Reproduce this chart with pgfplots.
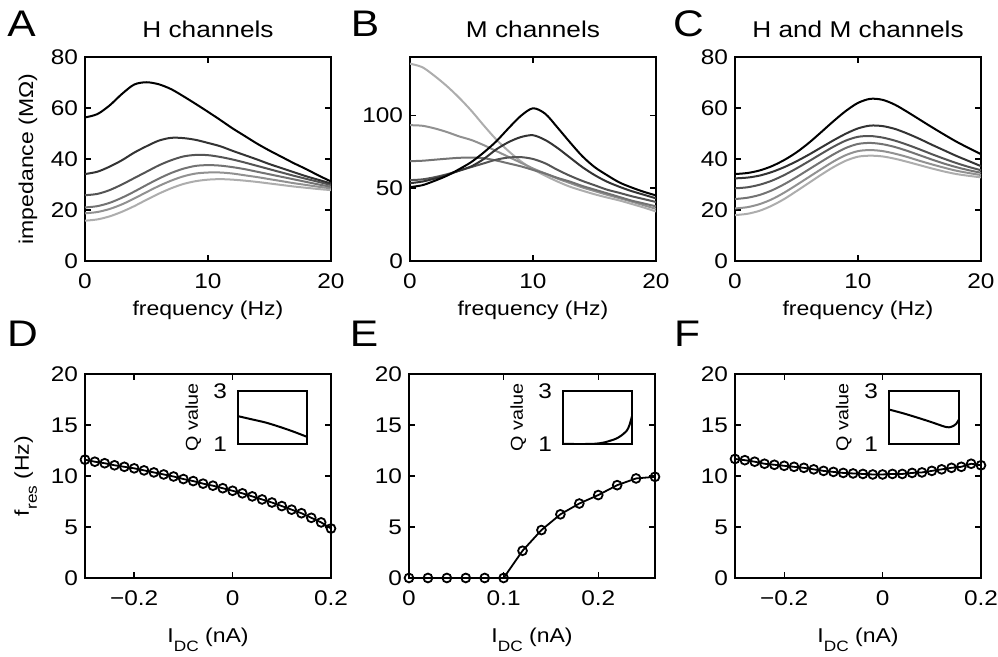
\documentclass[border=0pt]{standalone}
\usepackage{fontspec}
\setmainfont{Liberation Sans}[FakeStretch=1.15]
\usepackage{pgfplots}
\pgfplotsset{compat=1.18}
\definecolor{c1}{rgb}{0,0,0}
\definecolor{c2}{rgb}{0.2,0.2,0.2}
\definecolor{c3}{rgb}{0.33,0.33,0.33}
\definecolor{c4}{rgb}{0.45,0.45,0.45}
\definecolor{c5}{rgb}{0.57,0.57,0.57}
\definecolor{c6}{rgb}{0.68,0.68,0.68}
\newcommand{\tkfont}{\fontsize{10.6}{12}\selectfont}
\newcommand{\lbfont}{\fontsize{10}{12}\selectfont}
\pgfplotsset{
  mainax/.style={scale only axis, width=123pt, height=102pt, anchor=south west,
    axis line style={line width=0.7pt}, every tick/.style={black, line width=0.7pt},
    major tick length=3pt, tick align=inside,
    /pgf/number format/assume math mode=true,
    tick label style={font=\tkfont}, label style={font=\lbfont},
    every axis title/.style={font=\fontsize{11.4}{13}\selectfont, at={(0.5,1)}, anchor=base, yshift=9.8pt},
    xticklabel style={anchor=base, yshift=-14pt},
    ylabel style={at={(axis description cs:-0.211,0.5)}, anchor=base},
  },
  toprow/.style={mainax, xmin=0, xmax=20, xtick={0,10,20},
    xlabel={frequency (Hz)},
    xlabel style={at={(axis description cs:0.5,0)}, anchor=base, yshift=-27.5pt}},
  botrow/.style={mainax, ymin=0, ymax=20, ytick={0,5,10,15,20},
    xlabel={I\raisebox{-4.5pt}{\fontsize{7.5}{8}\selectfont DC} (nA)},
    xlabel style={at={(axis description cs:0.5,0)}, anchor=base, yshift=-32.2pt}},
  inset/.style={scale only axis, height=26.5pt, anchor=south west,
    axis line style={line width=0.7pt}, ymin=1, ymax=3, xtick=\empty, ytick={1,3},
    major tick length=0pt, /pgf/number format/assume math mode=true,
    yticklabel style={font=\tkfont, xshift=-2pt},
    axis background/.style={fill=white},
    ylabel={Q value},
    ylabel style={font=\fontsize{8.6}{10}\selectfont, at={(axis description cs:-0.58,0.5)}, anchor=base}},
  ln/.style={line width=1pt, smooth},
  mk/.style={black, line width=0.9pt, mark=o, mark size=2.2pt},
}
\begin{document}
\begin{tikzpicture}
\useasboundingbox (0pt,0pt) rectangle (499pt,328.5pt);
% ---------------- A
\begin{axis}[toprow, at={(42.5pt,198pt)}, ymin=0, ymax=80, ytick={0,20,40,60,80},
  title={H channels}, ylabel={impedance (MΩ)}]
\addplot[ln,c6] coordinates {(0,15.8)(1,16.3)(2,17.5)(3,19.3)(4,21.5)(5,24)(6,26.4)(7,28.5)(8,30.2)(9,31.3)(10,31.9)(11,32.1)(12,31.9)(13,31.5)(14,31)(15,30.4)(16,29.8)(17,29.2)(18,28.7)(19,28.2)(20,27.8)};
\addplot[ln,c5] coordinates {(0,18.7)(1,19.2)(2,20.4)(3,22.2)(4,24.5)(5,27)(6,29.4)(7,31.5)(8,33.2)(9,34.3)(10,34.7)(11,34.7)(12,34.3)(13,33.6)(14,32.9)(15,32.1)(16,31.3)(17,30.5)(18,29.8)(19,29.1)(20,28.5)};
\addplot[ln,c4] coordinates {(0,21)(1,21.5)(2,22.8)(3,24.8)(4,27.2)(5,29.8)(6,32.3)(7,34.5)(8,36.2)(9,37.3)(10,37.6)(11,37.4)(12,36.8)(13,36)(14,35)(15,34)(16,33)(17,32)(18,31)(19,30)(20,29.1)};
\addplot[ln,c3] coordinates {(0,25.8)(1,26.3)(2,27.8)(3,30)(4,32.5)(5,35)(6,37.5)(7,39.5)(8,41)(9,41.6)(10,41.5)(11,40.8)(12,39.8)(13,38.6)(14,37.3)(15,36)(16,34.7)(17,33.4)(18,32.2)(19,31)(20,29.8)};
\addplot[ln,c2] coordinates {(0,34.1)(1,35)(2,37)(3,39.5)(4,42.5)(5,45)(6,47.2)(7,48.3)(8,48.2)(9,47.5)(10,46.3)(11,45)(12,43.2)(13,41.5)(14,39.8)(15,38)(16,36.4)(17,34.8)(18,33.2)(19,31.8)(20,30.4)};
\addplot[ln,c1] coordinates {(0,56.3)(1,57.6)(2,61)(3,65.5)(4,69.2)(5,70.1)(6,69.3)(7,67.4)(8,64.6)(9,61.6)(10,58.5)(11,55.3)(12,52)(13,49)(14,46)(15,43.3)(16,40.8)(17,38.3)(18,36)(19,33.5)(20,31.2)};
\end{axis}
% ---------------- B
\begin{axis}[toprow, at={(205pt,198pt)}, ymin=0, ymax=140, ytick={0,50,100},
  title={M channels}]
\addplot[ln,c6] coordinates {(0,135.4)(1,133)(2,127)(3,120)(4,112)(5,103)(6,93)(7,83.5)(8,75.5)(9,68.5)(10,63)(11,58.5)(12,54.5)(13,51)(14,48.3)(15,45.8)(16,43.6)(17,41.6)(18,39.2)(19,36.7)(20,34)};
\addplot[ln,c5] coordinates {(0,93.2)(1,92.8)(2,91)(3,88.5)(4,85.5)(5,83)(6,79.5)(7,75.5)(8,71.5)(9,67.5)(10,63.5)(11,60)(12,56.5)(13,53.5)(14,50.5)(15,48)(16,45.5)(17,43.2)(18,40.8)(19,38.3)(20,35.8)};
\addplot[ln,c4] coordinates {(0,68.5)(1,68.8)(2,69.5)(3,70.2)(4,70.8)(5,71)(6,70.5)(7,69)(8,67)(9,65)(10,62.5)(11,60)(12,57)(13,54.5)(14,51.5)(15,49)(16,46.5)(17,44)(18,41.5)(19,39.5)(20,37.5)};
\addplot[ln,c3] coordinates {(0,55.5)(1,56)(2,57.5)(3,59.5)(4,62)(5,64.5)(6,67)(7,69.5)(8,71)(9,71.3)(10,70)(11,67)(12,62.5)(13,58.5)(14,55)(15,52)(16,49)(17,46.8)(18,44.5)(19,42.5)(20,40.5)};
\addplot[ln,c2] coordinates {(0,53.4)(1,54.5)(2,56.5)(3,59)(4,62)(5,65)(6,70)(7,76.5)(8,81.5)(9,85)(10,86.3)(11,83)(12,77.5)(13,71)(14,64.5)(15,59)(16,54.5)(17,51)(18,48)(19,45.5)(20,43)};
\addplot[ln,c1] coordinates {(0,50.7)(1,52)(2,55)(3,58.5)(4,63)(5,68)(6,74.5)(7,82)(8,91)(9,99.5)(10,104.8)(11,101)(12,91.5)(13,81.5)(14,72)(15,64.5)(16,59)(17,54)(18,50.5)(19,47.5)(20,45)};
\end{axis}
% ---------------- C
\begin{axis}[toprow, at={(367.5pt,198pt)}, ymin=0, ymax=80, ytick={0,20,40,60,80},
  title={H and M channels}]
\addplot[ln,c6] coordinates {(0,18)(1,18.5)(2,19.7)(3,21.7)(4,24.3)(5,27.4)(6,30.6)(7,33.8)(8,36.8)(9,39.3)(10,40.9)(11,41.3)(12,41)(13,40.1)(14,38.9)(15,37.6)(16,36.3)(17,35.1)(18,34.1)(19,33.4)(20,32.8)};
\addplot[ln,c5] coordinates {(0,20.6)(1,21.1)(2,22.3)(3,24.2)(4,26.8)(5,29.8)(6,32.9)(7,36)(8,39)(9,41.5)(10,43.1)(11,43.5)(12,43.1)(13,42.1)(14,40.8)(15,39.3)(16,37.9)(17,36.6)(18,35.4)(19,34.5)(20,33.7)};
\addplot[ln,c4] coordinates {(0,24.3)(1,24.8)(2,25.9)(3,27.7)(4,30.1)(5,32.9)(6,35.9)(7,38.9)(8,41.8)(9,44.3)(10,45.9)(11,46.3)(12,45.8)(13,44.7)(14,43.2)(15,41.5)(16,39.8)(17,38.2)(18,36.8)(19,35.6)(20,34.6)};
\addplot[ln,c3] coordinates {(0,28.5)(1,28.9)(2,29.9)(3,31.5)(4,33.7)(5,36.3)(6,39.1)(7,42)(8,44.8)(9,47.2)(10,48.7)(11,49)(12,48.4)(13,47.2)(14,45.6)(15,43.8)(16,41.9)(17,40.1)(18,38.4)(19,36.9)(20,35.6)};
\addplot[ln,c2] coordinates {(0,32.4)(1,32.7)(2,33.5)(3,34.9)(4,36.8)(5,39.1)(6,41.7)(7,44.5)(8,47.3)(9,49.9)(10,52)(11,53.1)(12,52.9)(13,51.8)(14,50)(15,47.9)(16,45.6)(17,43.4)(18,41.2)(19,39.2)(20,37.2)};
\addplot[ln,c1] coordinates {(0,34.1)(1,34.5)(2,35.5)(3,37.2)(4,39.6)(5,42.6)(6,46.3)(7,50.5)(8,54.8)(9,58.8)(10,62)(11,63.6)(12,63.2)(13,61.3)(14,58.5)(15,55.5)(16,52.5)(17,49.6)(18,46.8)(19,44.3)(20,41.9)};
\end{axis}
% ---------------- D
\begin{axis}[botrow, at={(42.5pt,39.5pt)}, xmin=-0.3, xmax=0.2, xtick={-0.2,0,0.2},
  xticklabels={−0.2,0,0.2},
  ylabel={f\raisebox{-4pt}{\fontsize{7.5}{8}\selectfont res} (Hz)},
  ylabel style={at={(axis description cs:-0.228,0.5)}}]
\addplot[mk] coordinates {(-0.30,11.6)(-0.28,11.4)(-0.26,11.25)(-0.24,11.05)(-0.22,10.9)(-0.20,10.75)(-0.18,10.55)(-0.16,10.35)(-0.14,10.15)(-0.12,9.95)(-0.10,9.7)(-0.08,9.5)(-0.06,9.25)(-0.04,9.05)(-0.02,8.8)(0.00,8.55)(0.02,8.3)(0.04,8.0)(0.06,7.7)(0.08,7.4)(0.10,7.05)(0.12,6.7)(0.14,6.35)(0.16,5.9)(0.18,5.45)(0.20,4.85)};
\end{axis}
\begin{axis}[inset, width=34.5pt, at={(119pt,106.5pt)}, xmin=-0.3, xmax=0.2]
\addplot[ln,black] coordinates {(-0.3,2.05)(-0.2,1.93)(-0.1,1.81)(0,1.65)(0.1,1.47)(0.2,1.27)};
\end{axis}
% ---------------- E
\begin{axis}[botrow, at={(204.5pt,39.5pt)}, xmin=0, xmax=0.26, xtick={0,0.1,0.2},
  xticklabels={0,0.1,0.2}]
\addplot[mk] coordinates {(0,0)(0.02,0)(0.04,0)(0.06,0)(0.08,0)(0.10,0)(0.12,2.67)(0.14,4.7)(0.16,6.24)(0.18,7.3)(0.20,8.13)(0.22,9.1)(0.24,9.76)(0.26,9.92)};
\end{axis}
\begin{axis}[inset, width=34.5pt, at={(281.5pt,106.5pt)}, xmin=0, xmax=0.26]
\addplot[ln,black] coordinates {(0,1)(0.1,1)(0.12,1.01)(0.14,1.03)(0.16,1.07)(0.18,1.13)(0.2,1.2)(0.22,1.32)(0.24,1.5)(0.25,1.7)(0.26,2.05)};
\end{axis}
% ---------------- F
\begin{axis}[botrow, at={(367.5pt,39.5pt)}, xmin=-0.3, xmax=0.2, xtick={-0.2,0,0.2},
  xticklabels={−0.2,0,0.2}]
\addplot[mk] coordinates {(-0.30,11.67)(-0.28,11.55)(-0.26,11.4)(-0.24,11.2)(-0.22,11.1)(-0.20,11.0)(-0.18,10.9)(-0.16,10.8)(-0.14,10.65)(-0.12,10.5)(-0.10,10.4)(-0.08,10.3)(-0.06,10.25)(-0.04,10.2)(-0.02,10.15)(0.00,10.15)(0.02,10.2)(0.04,10.2)(0.06,10.3)(0.08,10.35)(0.10,10.5)(0.12,10.65)(0.14,10.8)(0.16,10.9)(0.18,11.2)(0.20,11.05)};
\end{axis}
\begin{axis}[inset, width=35pt, at={(444.5pt,106.5pt)}, xmin=-0.3, xmax=0.2]
\addplot[ln,black] coordinates {(-0.3,2.3)(-0.2,2.16)(-0.1,2.0)(0,1.83)(0.06,1.72)(0.1,1.65)(0.13,1.63)(0.16,1.68)(0.18,1.76)(0.2,1.93)};
\end{axis}
% panel letters
\node[font=\fontsize{18.5}{19}\selectfont, anchor=base] at (10.75pt,310.2pt) {A};
\node[font=\fontsize{18.5}{19}\selectfont, anchor=base] at (182.5pt,310.2pt) {B};
\node[font=\fontsize{18.5}{19}\selectfont, anchor=base] at (344.2pt,310.2pt) {C};
\node[font=\fontsize{18.5}{19}\selectfont, anchor=base] at (11.25pt,155.2pt) {D};
\node[font=\fontsize{18.5}{19}\selectfont, anchor=base] at (182pt,155.2pt) {E};
\node[font=\fontsize{18.5}{19}\selectfont, anchor=base] at (343.5pt,155.2pt) {F};
\end{tikzpicture}
\end{document}
